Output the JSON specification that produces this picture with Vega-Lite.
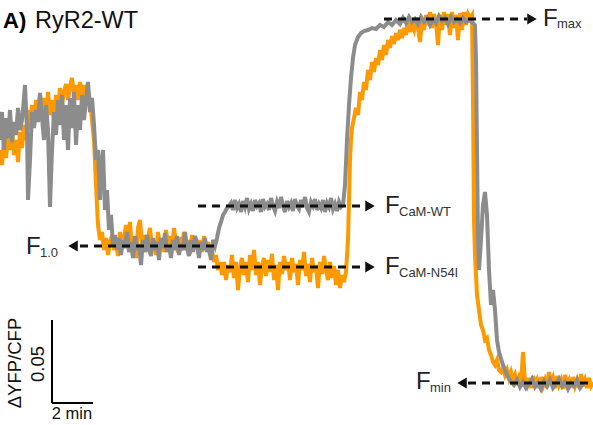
{
  "$schema": "https://vega.github.io/schema/vega-lite/v6.json",
  "width": 593,
  "height": 425,
  "autosize": "none",
  "padding": 0,
  "background": "white",
  "config": {"view": {"stroke": null}, "text": {"font": "Liberation Sans"}},
  "datasets": {
    "n54i": [
      {"x":0,"y":150},{"x":2,"y":165},{"x":4,"y":140},{"x":6,"y":158},{"x":8,"y":135},{"x":10,"y":150},{"x":12,"y":128},{"x":14,"y":155},{"x":16,"y":140},{"x":18,"y":162},{"x":20,"y":132},{"x":22,"y":148},{"x":24,"y":125},{"x":26,"y":140},{"x":28,"y":110},{"x":30,"y":130},{"x":32,"y":105},{"x":34,"y":125},{"x":36,"y":100},{"x":38,"y":118},{"x":40,"y":95},{"x":42,"y":112},{"x":44,"y":98},{"x":46,"y":120},{"x":48,"y":92},{"x":50,"y":115},{"x":52,"y":100},{"x":54,"y":122},{"x":56,"y":95},{"x":58,"y":110},{"x":60,"y":88},{"x":62,"y":105},{"x":64,"y":92},{"x":66,"y":84},{"x":68,"y":100},{"x":70,"y":86},{"x":72,"y":78},{"x":74,"y":95},{"x":76,"y":85},{"x":78,"y":100},{"x":80,"y":82},{"x":82,"y":96},{"x":84,"y":85},{"x":86,"y":105},{"x":88,"y":90},{"x":90,"y":100},{"x":92,"y":120},{"x":94,"y":140},{"x":96,"y":185},{"x":98,"y":225},{"x":100,"y":240},{"x":102,"y":232},{"x":104,"y":250},{"x":106,"y":238},{"x":108,"y":255},{"x":110,"y":242},
      {"x":112,"y":235},{"x":114,"y":250},{"x":116,"y":240},{"x":118,"y":256},{"x":120,"y":232},{"x":122,"y":248},{"x":124,"y":238},{"x":126,"y":225},{"x":128,"y":245},{"x":130,"y":222},{"x":132,"y":250},{"x":134,"y":240},{"x":136,"y":258},{"x":138,"y":228},{"x":140,"y":220},{"x":142,"y":245},{"x":144,"y":235},{"x":146,"y":252},{"x":148,"y":238},{"x":150,"y":228},{"x":152,"y":248},{"x":154,"y":240},{"x":156,"y":255},{"x":158,"y":232},{"x":160,"y":246},{"x":162,"y":238},{"x":164,"y":252},{"x":166,"y":230},{"x":168,"y":244},{"x":170,"y":236},{"x":172,"y":250},{"x":174,"y":228},{"x":176,"y":242},{"x":178,"y":252},{"x":180,"y":237},{"x":182,"y":247},{"x":184,"y":232},{"x":186,"y":250},{"x":188,"y":240},{"x":190,"y":254},{"x":192,"y":235},{"x":194,"y":246},{"x":196,"y":238},{"x":198,"y":250},{"x":200,"y":240},{"x":202,"y":252},{"x":204,"y":236},{"x":206,"y":248},{"x":208,"y":242},{"x":210,"y":256},{"x":212,"y":250},{"x":214,"y":262},{"x":216,"y":255},{"x":218,"y":270},{"x":220,"y":262},
      {"x":222,"y":275},{"x":224,"y":262},{"x":226,"y":280},{"x":228,"y":265},{"x":230,"y":272},{"x":232,"y":255},{"x":234,"y":278},{"x":236,"y":262},{"x":238,"y":290},{"x":240,"y":268},{"x":242,"y":258},{"x":244,"y":275},{"x":246,"y":262},{"x":248,"y":282},{"x":250,"y":255},{"x":252,"y":270},{"x":254,"y":250},{"x":256,"y":275},{"x":258,"y":262},{"x":260,"y":285},{"x":262,"y":266},{"x":264,"y":258},{"x":266,"y":276},{"x":268,"y":260},{"x":270,"y":272},{"x":272,"y":254},{"x":274,"y":280},{"x":276,"y":265},{"x":278,"y":290},{"x":280,"y":262},{"x":282,"y":274},{"x":284,"y":256},{"x":286,"y":270},{"x":288,"y":262},{"x":290,"y":280},{"x":292,"y":258},{"x":294,"y":272},{"x":296,"y":264},{"x":298,"y":285},{"x":300,"y":260},{"x":302,"y":270},{"x":304,"y":252},{"x":306,"y":276},{"x":308,"y":264},{"x":310,"y":282},{"x":312,"y":258},{"x":314,"y":272},{"x":316,"y":266},{"x":318,"y":288},{"x":320,"y":262},{"x":322,"y":274},{"x":324,"y":256},{"x":326,"y":270},{"x":328,"y":280},{"x":330,"y":262},{"x":332,"y":278},{"x":334,"y":266},{"x":336,"y":285},{"x":338,"y":270},{"x":340,"y":288},{"x":342,"y":275},{"x":344,"y":282},{"x":346,"y":272},
      {"x":348,"y":240},{"x":349,"y":200},{"x":350,"y":160},{"x":351,"y":140},{"x":352,"y":128},{"x":354,"y":118},{"x":356,"y":108},{"x":358,"y":115},{"x":360,"y":92},{"x":362,"y":100},{"x":364,"y":82},{"x":366,"y":90},{"x":368,"y":70},{"x":370,"y":80},{"x":372,"y":62},{"x":374,"y":72},{"x":376,"y":58},{"x":378,"y":65},{"x":380,"y":50},{"x":382,"y":60},{"x":384,"y":45},{"x":386,"y":55},{"x":388,"y":40},{"x":390,"y":48},{"x":392,"y":36},{"x":394,"y":44},{"x":396,"y":33},{"x":398,"y":40},{"x":400,"y":30},{"x":402,"y":38},{"x":404,"y":28},{"x":406,"y":35},{"x":408,"y":22},{"x":410,"y":32},{"x":412,"y":25},{"x":414,"y":30},{"x":416,"y":18},{"x":418,"y":28},{"x":420,"y":42},{"x":422,"y":22},{"x":424,"y":30},{"x":426,"y":15},{"x":428,"y":25},{"x":430,"y":12},{"x":432,"y":28},{"x":434,"y":14},{"x":436,"y":22},{"x":438,"y":45},{"x":440,"y":15},{"x":442,"y":30},{"x":444,"y":12},{"x":446,"y":25},{"x":448,"y":14},{"x":450,"y":35},{"x":452,"y":12},{"x":454,"y":28},{"x":456,"y":15},{"x":458,"y":40},{"x":460,"y":13},{"x":462,"y":30},{"x":464,"y":12},{"x":466,"y":25},{"x":468,"y":14},{"x":470,"y":18},{"x":472,"y":15},
      {"x":473,"y":100},{"x":474,"y":220},{"x":475,"y":255},{"x":477,"y":295},{"x":479,"y":310},{"x":481,"y":325},{"x":483,"y":330},{"x":485,"y":340},{"x":487,"y":338},{"x":489,"y":350},{"x":491,"y":355},{"x":493,"y":362},{"x":495,"y":365},{"x":497,"y":360},{"x":499,"y":370},{"x":501,"y":372},{"x":503,"y":368},{"x":505,"y":375},{"x":507,"y":370},{"x":509,"y":378},{"x":511,"y":372},{"x":513,"y":380},{"x":515,"y":375},{"x":517,"y":385},{"x":519,"y":378},{"x":521,"y":385},{"x":523,"y":352},{"x":525,"y":382},{"x":527,"y":386},{"x":529,"y":378},{"x":531,"y":388},{"x":533,"y":376},{"x":535,"y":385},{"x":537,"y":380},{"x":539,"y":388},{"x":541,"y":377},{"x":543,"y":386},{"x":545,"y":380},{"x":547,"y":388},{"x":549,"y":372},{"x":551,"y":384},{"x":553,"y":378},{"x":555,"y":388},{"x":557,"y":376},{"x":559,"y":385},{"x":561,"y":380},{"x":563,"y":389},{"x":565,"y":375},{"x":567,"y":384},{"x":569,"y":380},{"x":571,"y":388},{"x":573,"y":377},{"x":575,"y":386},{"x":577,"y":380},{"x":579,"y":388},{"x":581,"y":374},{"x":583,"y":386},{"x":585,"y":380},{"x":587,"y":388},{"x":589,"y":378},{"x":591,"y":386},{"x":593,"y":382}
    ],
    "wt": [
      {"x":0,"y":140},{"x":2,"y":112},{"x":4,"y":150},{"x":6,"y":118},{"x":8,"y":138},{"x":10,"y":110},{"x":12,"y":142},{"x":14,"y":122},{"x":16,"y":135},{"x":18,"y":108},{"x":20,"y":130},{"x":22,"y":120},{"x":24,"y":98},{"x":25,"y":85},{"x":27,"y":130},{"x":28,"y":200},{"x":30,"y":160},{"x":32,"y":112},{"x":34,"y":128},{"x":36,"y":110},{"x":38,"y":122},{"x":40,"y":93},{"x":42,"y":118},{"x":44,"y":140},{"x":46,"y":105},{"x":48,"y":130},{"x":50,"y":207},{"x":52,"y":150},{"x":54,"y":112},{"x":56,"y":135},{"x":58,"y":100},{"x":60,"y":125},{"x":62,"y":95},{"x":64,"y":140},{"x":66,"y":105},{"x":68,"y":150},{"x":70,"y":98},{"x":72,"y":128},{"x":74,"y":92},{"x":76,"y":145},{"x":78,"y":105},{"x":80,"y":130},{"x":82,"y":95},{"x":84,"y":120},{"x":86,"y":100},{"x":88,"y":82},{"x":90,"y":112},{"x":92,"y":98},{"x":94,"y":125},{"x":96,"y":160},{"x":98,"y":150},{"x":100,"y":200},{"x":101,"y":170},{"x":103,"y":150},{"x":105,"y":210},{"x":107,"y":190},{"x":109,"y":230},{"x":111,"y":215},{"x":113,"y":245},{"x":115,"y":235},
      {"x":117,"y":250},{"x":119,"y":238},{"x":121,"y":255},{"x":123,"y":240},{"x":125,"y":248},{"x":127,"y":232},{"x":129,"y":252},{"x":131,"y":242},{"x":133,"y":258},{"x":135,"y":236},{"x":137,"y":250},{"x":139,"y":244},{"x":141,"y":265},{"x":143,"y":240},{"x":145,"y":252},{"x":147,"y":235},{"x":149,"y":248},{"x":151,"y":256},{"x":153,"y":238},{"x":155,"y":250},{"x":157,"y":242},{"x":159,"y":260},{"x":161,"y":238},{"x":163,"y":248},{"x":165,"y":233},{"x":167,"y":252},{"x":169,"y":245},{"x":171,"y":258},{"x":173,"y":240},{"x":175,"y":250},{"x":177,"y":236},{"x":179,"y":255},{"x":181,"y":244},{"x":183,"y":250},{"x":185,"y":232},{"x":187,"y":248},{"x":189,"y":256},{"x":191,"y":240},{"x":193,"y":252},{"x":195,"y":236},{"x":197,"y":245},{"x":199,"y":258},{"x":201,"y":242},{"x":203,"y":250},{"x":205,"y":238},{"x":207,"y":252},{"x":209,"y":245},{"x":211,"y":260},{"x":213,"y":240},{"x":215,"y":246},
      {"x":217,"y":238},{"x":219,"y":228},{"x":221,"y":222},{"x":223,"y":215},{"x":225,"y":212},{"x":227,"y":208},{"x":229,"y":206},
      {"x":231,"y":203},{"x":233,"y":210},{"x":235,"y":200},{"x":237,"y":208},{"x":239,"y":204},{"x":241,"y":212},{"x":243,"y":201},{"x":245,"y":207},{"x":247,"y":198},{"x":249,"y":209},{"x":251,"y":204},{"x":253,"y":211},{"x":255,"y":200},{"x":257,"y":206},{"x":259,"y":203},{"x":261,"y":212},{"x":263,"y":199},{"x":265,"y":207},{"x":267,"y":204},{"x":269,"y":210},{"x":271,"y":198},{"x":273,"y":206},{"x":275,"y":211},{"x":277,"y":202},{"x":279,"y":208},{"x":281,"y":197},{"x":283,"y":206},{"x":285,"y":212},{"x":287,"y":201},{"x":289,"y":207},{"x":291,"y":203},{"x":293,"y":211},{"x":295,"y":199},{"x":297,"y":206},{"x":299,"y":209},{"x":301,"y":200},{"x":303,"y":207},{"x":305,"y":197},{"x":307,"y":208},{"x":309,"y":212},{"x":311,"y":202},{"x":313,"y":206},{"x":315,"y":199},{"x":317,"y":210},{"x":319,"y":204},{"x":321,"y":208},{"x":323,"y":200},{"x":325,"y":212},{"x":327,"y":203},{"x":329,"y":207},{"x":331,"y":198},{"x":333,"y":209},{"x":335,"y":204},{"x":337,"y":211},{"x":339,"y":202},{"x":341,"y":207},{"x":343,"y":205},
      {"x":345,"y":185},{"x":347,"y":140},{"x":349,"y":105},{"x":351,"y":78},{"x":353,"y":58},{"x":355,"y":45},{"x":358,"y":37},{"x":361,"y":33},{"x":364,"y":31},{"x":368,"y":30},{"x":372,"y":28},{"x":376,"y":29},{"x":380,"y":25},{"x":384,"y":27},{"x":388,"y":22},{"x":392,"y":25},{"x":396,"y":20},{"x":400,"y":24},{"x":403,"y":18},{"x":406,"y":23},{"x":409,"y":17},{"x":412,"y":22},{"x":415,"y":19},{"x":418,"y":24},{"x":421,"y":17},{"x":424,"y":22},{"x":427,"y":18},{"x":430,"y":25},{"x":433,"y":19},{"x":436,"y":23},{"x":439,"y":16},{"x":442,"y":21},{"x":445,"y":18},{"x":448,"y":24},{"x":451,"y":17},{"x":454,"y":22},{"x":457,"y":19},{"x":460,"y":23},{"x":463,"y":18},{"x":466,"y":22},{"x":469,"y":20},{"x":472,"y":22},{"x":475,"y":25},
      {"x":476,"y":60},{"x":477,"y":150},{"x":478,"y":240},{"x":479,"y":270},{"x":481,"y":240},{"x":483,"y":205},{"x":485,"y":192},{"x":487,"y":215},{"x":489,"y":270},{"x":491,"y":305},{"x":493,"y":290},{"x":495,"y":310},{"x":497,"y":340},{"x":499,"y":352},{"x":502,"y":362},{"x":505,"y":370},{"x":508,"y":377},{"x":511,"y":382},{"x":514,"y":385},{"x":517,"y":380},{"x":520,"y":387},{"x":523,"y":382},{"x":526,"y":388},{"x":529,"y":384},{"x":532,"y":379},{"x":535,"y":387},{"x":538,"y":383},{"x":541,"y":389},{"x":544,"y":381},{"x":547,"y":386},{"x":550,"y":380},{"x":553,"y":388},{"x":556,"y":384},{"x":559,"y":379},{"x":562,"y":386},{"x":565,"y":382},{"x":568,"y":389},{"x":571,"y":383},{"x":574,"y":386},{"x":577,"y":380},{"x":580,"y":388},{"x":583,"y":384}
    ],
    "dashes": [
      {"x":384,"x2":527,"y":19},
      {"x":198,"x2":365,"y":206},
      {"x":198,"x2":365,"y":267},
      {"x":80,"x2":215,"y":246},
      {"x":468,"x2":593,"y":383}
    ],
    "arrows": [
      {"x":532,"y":19,"dir":"right"},
      {"x":370,"y":206,"dir":"right"},
      {"x":370,"y":267,"dir":"right"},
      {"x":73,"y":246,"dir":"left"},
      {"x":462,"y":383,"dir":"left"}
    ],
    "flabels": [
      {"x":543,"y":26,"t":"F"},
      {"x":385,"y":213,"t":"F"},
      {"x":385,"y":274,"t":"F"},
      {"x":26,"y":254,"t":"F"},
      {"x":416,"y":389,"t":"F"}
    ],
    "subs": [
      {"x":557,"y":28,"t":"max"},
      {"x":399,"y":216,"t":"CaM-WT"},
      {"x":399,"y":277,"t":"CaM-N54I"},
      {"x":40,"y":257,"t":"1.0"},
      {"x":430,"y":392,"t":"min"}
    ],
    "bar": [
      {"x":52,"x2":52,"y":320,"y2":403},
      {"x":52,"x2":93,"y":403,"y2":403}
    ]
  },
  "encoding": {
    "x": {"field": "x", "type": "quantitative", "scale": {"domain": [0, 593], "nice": false, "zero": false}, "axis": null},
    "y": {"field": "y", "type": "quantitative", "scale": {"domain": [0, 425], "nice": false, "zero": false, "reverse": true}, "axis": null}
  },
  "layer": [
    {"data": {"name": "n54i"}, "mark": {"type": "line", "color": "#FF9900", "strokeWidth": 4, "clip": true}, "encoding": {"order": {"field": "x", "type": "quantitative"}}},
    {"data": {"name": "wt"}, "mark": {"type": "line", "color": "#8C8C8C", "strokeWidth": 4, "clip": true}, "encoding": {"order": {"field": "x", "type": "quantitative"}}},
    {"data": {"name": "dashes"}, "mark": {"type": "rule", "color": "#111111", "strokeWidth": 3, "strokeDash": [8, 6]}, "encoding": {"x2": {"field": "x2"}}},
    {"data": {"name": "arrows"}, "mark": {"type": "point", "filled": true, "color": "#111111", "opacity": 1, "size": 120},
      "encoding": {"shape": {"field": "dir", "type": "nominal", "scale": {"domain": ["left", "right"], "range": ["triangle-left", "triangle-right"]}, "legend": null}}},
    {"data": {"name": "flabels"}, "mark": {"type": "text", "fontSize": 24, "align": "left", "baseline": "alphabetic", "color": "#222222"}, "encoding": {"text": {"field": "t"}}},
    {"data": {"name": "subs"}, "mark": {"type": "text", "fontSize": 13, "align": "left", "baseline": "alphabetic", "color": "#333333"}, "encoding": {"text": {"field": "t"}}},
    {"data": {"name": "bar"}, "mark": {"type": "rule", "color": "#000000", "strokeWidth": 2}, "encoding": {"x2": {"field": "x2"}, "y2": {"field": "y2"}}},
    {"data": {"values": [{"x": 72, "y": 419, "t": "2 min"}]}, "mark": {"type": "text", "fontSize": 16.5, "align": "center", "baseline": "alphabetic", "color": "#111111"}, "encoding": {"text": {"field": "t"}}},
    {"data": {"values": [{"x": 38, "y": 364, "t": "0.05"}, {"x": 15, "y": 363, "t": "ΔYFP/CFP"}]}, "mark": {"type": "text", "fontSize": 18.5, "angle": 270, "align": "center", "baseline": "middle", "color": "#111111"}, "encoding": {"text": {"field": "t"}}},
    {"data": {"values": [{"x": 3, "y": 28, "t": "A)"}]}, "mark": {"type": "text", "fontSize": 22, "fontWeight": "bold", "align": "left", "baseline": "alphabetic", "color": "#000000"}, "encoding": {"text": {"field": "t"}}},
    {"data": {"values": [{"x": 35, "y": 28, "t": "RyR2-WT"}]}, "mark": {"type": "text", "fontSize": 23.5, "align": "left", "baseline": "alphabetic", "color": "#111111"}, "encoding": {"text": {"field": "t"}}}
  ]
}
